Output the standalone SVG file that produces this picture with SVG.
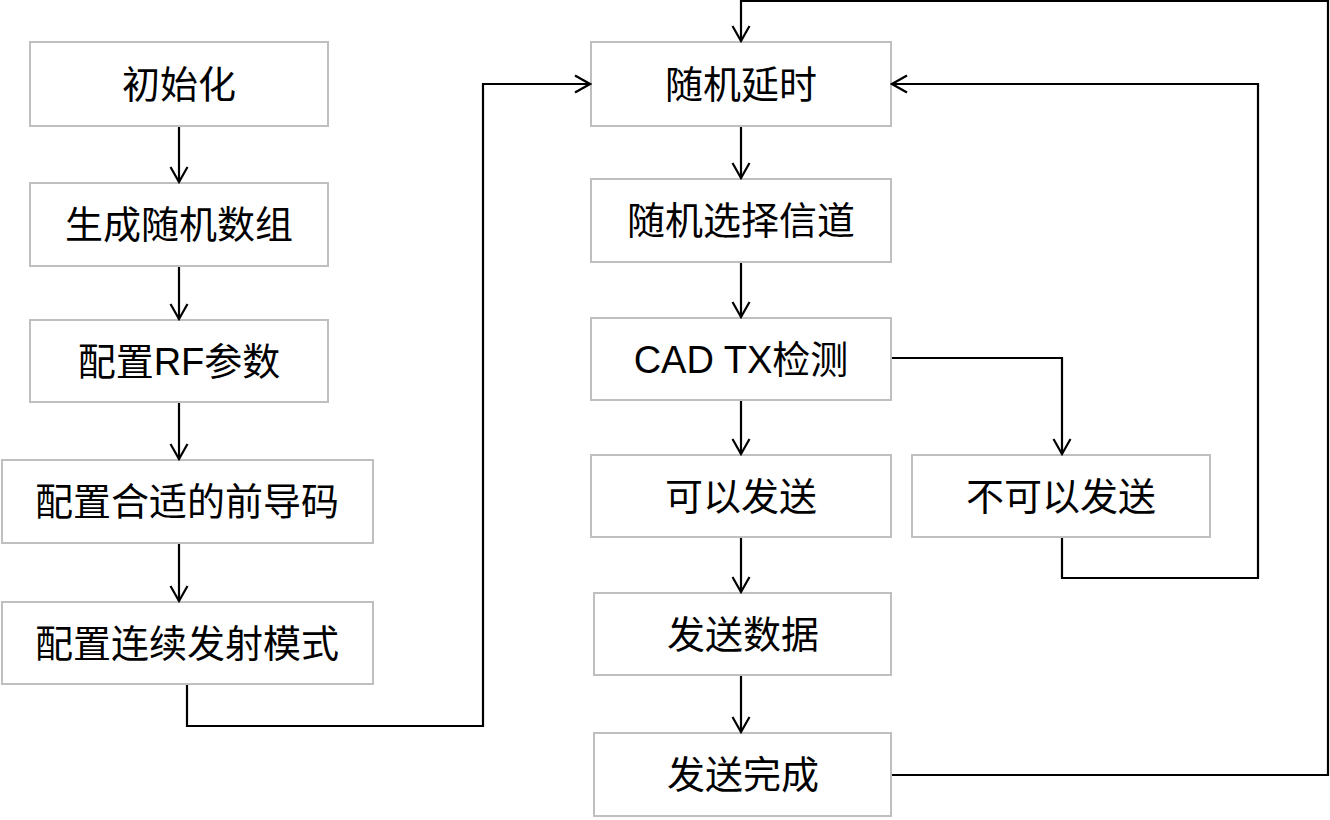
<svg xmlns="http://www.w3.org/2000/svg" width="1330" height="820" viewBox="0 0 1330 820">
<style>
.box{fill:#fff;stroke:#bfbfbf;stroke-width:2}
.t{font-family:"Liberation Sans","Noto Sans CJK SC",sans-serif;font-size:38px;fill:#000;text-anchor:middle}
.c{fill:none;stroke:#000;stroke-width:2.2}
</style>
<defs>
<marker id="ah" viewBox="0 0 18 20" refX="16" refY="10" markerWidth="18" markerHeight="20" markerUnits="userSpaceOnUse" orient="auto">
<path d="M1,1.5 L16,10 L1,18.5" fill="none" stroke="#000" stroke-width="2.2"/>
</marker>
</defs>
<rect width="1330" height="820" fill="#fff"/>
<g id="n1"><rect class="box" x="30" y="42" width="298" height="84"/><text class="t" x="179" y="98">初始化</text></g>
<g id="n2"><rect class="box" x="30" y="183" width="298" height="83"/><text class="t" x="179" y="238">生成随机数组</text></g>
<g id="n3"><rect class="box" x="30" y="320" width="298" height="82"/><text class="t" x="179" y="375">配置RF参数</text></g>
<g id="n4"><rect class="box" x="2" y="460" width="371" height="83"/><text class="t" x="187" y="515">配置合适的前导码</text></g>
<g id="n5"><rect class="box" x="2" y="602" width="371" height="82"/><text class="t" x="187" y="657">配置连续发射模式</text></g>
<g id="n6"><rect class="box" x="591" y="42" width="300" height="84"/><text class="t" x="741" y="98">随机延时</text></g>
<g id="n7"><rect class="box" x="591" y="179" width="300" height="83"/><text class="t" x="741" y="234">随机选择信道</text></g>
<g id="n8"><rect class="box" x="591" y="318" width="300" height="82"/><text class="t" x="741" y="373">CAD TX检测</text></g>
<g id="n9"><rect class="box" x="591" y="455" width="300" height="82"/><text class="t" x="741" y="510">可以发送</text></g>
<g id="n10"><rect class="box" x="912" y="455" width="298" height="82"/><text class="t" x="1061" y="510">不可以发送</text></g>
<g id="n11"><rect class="box" x="594" y="593" width="297" height="82"/><text class="t" x="743" y="648">发送数据</text></g>
<g id="n12"><rect class="box" x="594" y="733" width="297" height="83"/><text class="t" x="743" y="788">发送完成</text></g>
<g id="connectors">
<line class="c" x1="179" y1="127" x2="179" y2="182" marker-end="url(#ah)"/>
<line class="c" x1="179" y1="267" x2="179" y2="319" marker-end="url(#ah)"/>
<line class="c" x1="179" y1="403" x2="179" y2="459" marker-end="url(#ah)"/>
<line class="c" x1="179" y1="544" x2="179" y2="601" marker-end="url(#ah)"/>
<polyline class="c" points="187,685 187,726 483,726 483,84 590,84" marker-end="url(#ah)"/>
<line class="c" x1="741" y1="127" x2="741" y2="178" marker-end="url(#ah)"/>
<line class="c" x1="741" y1="263" x2="741" y2="317" marker-end="url(#ah)"/>
<line class="c" x1="741" y1="401" x2="741" y2="454" marker-end="url(#ah)"/>
<polyline class="c" points="892,358 1062,358 1062,454" marker-end="url(#ah)"/>
<line class="c" x1="741" y1="538" x2="741" y2="592" marker-end="url(#ah)"/>
<line class="c" x1="741" y1="676" x2="741" y2="732" marker-end="url(#ah)"/>
<polyline class="c" points="1062,538 1062,578 1258,578 1258,84 892,84" marker-end="url(#ah)"/>
<polyline class="c" points="892,775 1328,775 1328,1 741,1 741,41" marker-end="url(#ah)"/>
</g>
</svg>
